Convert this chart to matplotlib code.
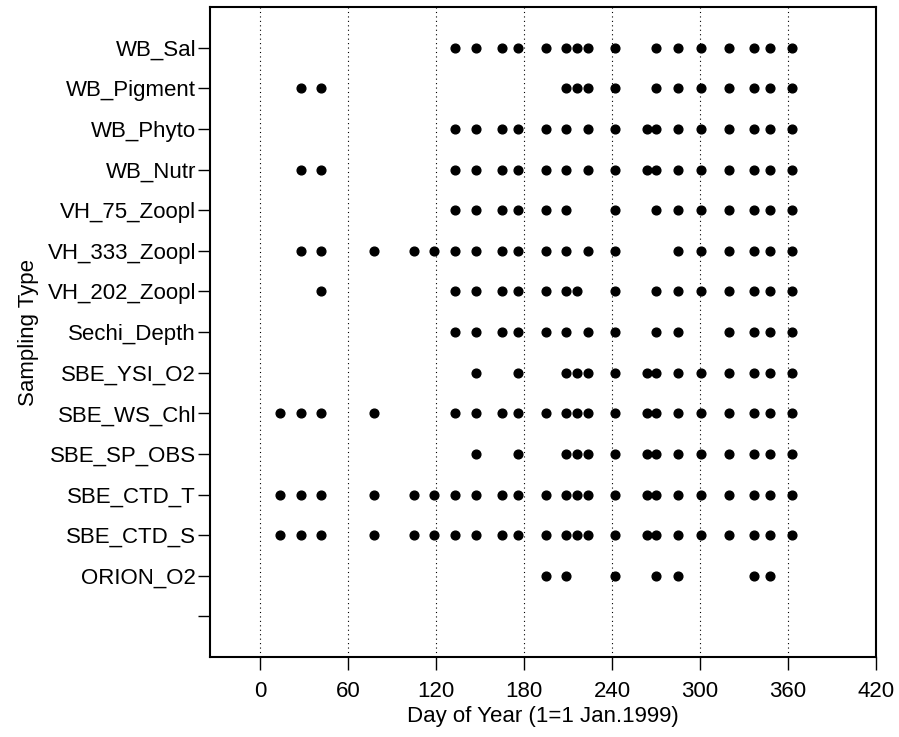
import matplotlib
matplotlib.use("Agg")
import matplotlib.pyplot as plt

plt.rcParams['font.family'] = ['Liberation Sans', 'DejaVu Sans']

# categories from bottom (blank) to top
categories = ["", "ORION_O2", "SBE_CTD_S", "SBE_CTD_T", "SBE_SP_OBS", "SBE_WS_Chl",
              "SBE_YSI_O2", "Sechi_Depth", "VH_202_Zoopl", "VH_333_Zoopl",
              "VH_75_Zoopl", "WB_Nutr", "WB_Phyto", "WB_Pigment", "WB_Sal"]

ORION_O2 = [195, 209, 242, 270, 285, 337, 348]
SBE_CTD_S = [14, 28, 42, 78, 105, 119, 133, 147, 165, 176, 195, 209, 216, 224, 242, 264, 270, 285, 301, 320, 337, 348, 363]
SBE_CTD_T = [14, 28, 42, 78, 105, 119, 133, 147, 165, 176, 195, 209, 216, 224, 242, 264, 270, 285, 301, 320, 337, 348, 363]
SBE_SP_OBS = [147, 176, 209, 216, 224, 242, 264, 270, 285, 301, 320, 337, 348, 363]
SBE_WS_Chl = [14, 28, 42, 78, 133, 147, 165, 176, 195, 209, 216, 224, 242, 264, 270, 285, 301, 320, 337, 348, 363]
SBE_YSI_O2 = [147, 176, 209, 216, 224, 242, 264, 270, 285, 301, 320, 337, 348, 363]
Sechi_Depth = [133, 147, 165, 176, 195, 209, 224, 242, 270, 285, 320, 337, 348, 363]
VH_202_Zoopl = [42, 133, 147, 165, 176, 195, 209, 216, 242, 270, 285, 301, 320, 337, 348, 363]
VH_333_Zoopl = [28, 42, 78, 105, 119, 133, 147, 165, 176, 195, 209, 224, 242, 285, 301, 320, 337, 348, 363]
VH_75_Zoopl = [133, 147, 165, 176, 195, 209, 242, 270, 285, 301, 320, 337, 348, 363]
WB_Nutr = [28, 42, 133, 147, 165, 176, 195, 209, 224, 242, 264, 270, 285, 301, 320, 337, 348, 363]
WB_Phyto = [133, 147, 165, 176, 195, 209, 224, 242, 264, 270, 285, 301, 320, 337, 348, 363]
WB_Pigment = [28, 42, 209, 216, 224, 242, 270, 285, 301, 320, 337, 348, 363]
WB_Sal = [133, 147, 165, 176, 195, 209, 216, 224, 242, 270, 285, 301, 320, 337, 348, 363]

series = {
    "ORION_O2": ORION_O2, "SBE_CTD_S": SBE_CTD_S, "SBE_CTD_T": SBE_CTD_T,
    "SBE_SP_OBS": SBE_SP_OBS, "SBE_WS_Chl": SBE_WS_Chl, "SBE_YSI_O2": SBE_YSI_O2,
    "Sechi_Depth": Sechi_Depth, "VH_202_Zoopl": VH_202_Zoopl,
    "VH_333_Zoopl": VH_333_Zoopl, "VH_75_Zoopl": VH_75_Zoopl,
    "WB_Nutr": WB_Nutr, "WB_Phyto": WB_Phyto, "WB_Pigment": WB_Pigment,
    "WB_Sal": WB_Sal,
}

x_ticks = [0, 60, 120, 180, 240, 300, 360, 420]
grid_days = [0, 60, 120, 180, 240, 300, 360]

fig = plt.figure(figsize=(8.99, 7.37), dpi=100)
ax = fig.add_axes([210/899, 1-657/737, (876-210)/899, (657-7)/737])

for d in grid_days:
    ax.axvline(d, color="black", linestyle=(0, (1, 3)), linewidth=0.8, zorder=1)

for name, days in series.items():
    yi = categories.index(name)
    ax.plot(days, [yi]*len(days), linestyle="none", marker="o",
            markersize=6.3, color="black", zorder=3)

ax.set_xlim(-34, 420)
ax.set_ylim(-1, 15)
ax.set_xticks(x_ticks)
ax.set_xticklabels([str(t) for t in x_ticks])
ax.set_yticks(range(len(categories)))
ax.set_yticklabels(categories)

for s in ax.spines.values():
    s.set_linewidth(1.5)

ax.tick_params(axis="x", direction="out", length=9, width=1, labelsize=16, pad=8)
ax.tick_params(axis="y", direction="out", length=9, width=1, labelsize=16, pad=1)

ax.set_xlabel("Day of Year (1=1 Jan.1999)", fontsize=16, labelpad=3)
ax.set_ylabel("Sampling Type", fontsize=16, labelpad=6)

fig.savefig("out.png", dpi=100)
